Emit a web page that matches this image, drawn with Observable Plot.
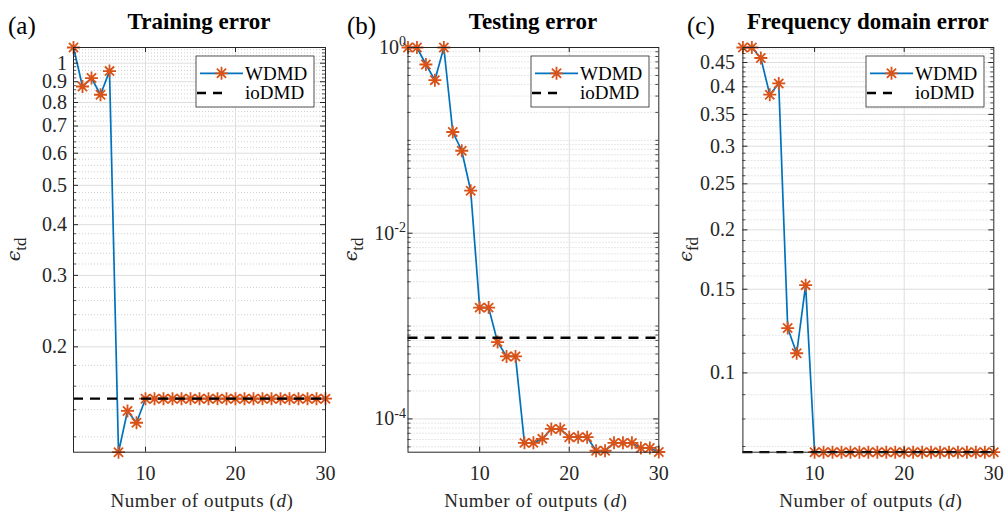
<!DOCTYPE html>
<html><head><meta charset="utf-8">
<script src="https://cdn.jsdelivr.net/npm/d3@7"></script>
<script src="https://cdn.jsdelivr.net/npm/@observablehq/plot@0.6"></script>
<style>
body{margin:0;background:#fff;}
#wrap{position:relative;width:1004px;height:513px;overflow:hidden;background:#fff;}
#wrap svg{position:absolute;top:0;font-family:"Liberation Serif","Times New Roman",serif !important;}
#wrap svg text{font-family:"Liberation Serif","Times New Roman",serif;}
#wrap svg tspan.eps{font-family:"DejaVu Serif",serif;}
</style></head>
<body><div id="wrap"></div>
<script>
// ---------- data ----------
const outputs = [2,3,4,5,6,7,8,9,10,11,12,13,14,15,16,17,18,19,20,21,22,23,24,25,26,27,28,29,30];
const trainWDMD = [1.093,0.876,0.919,0.836,0.956,0.110,0.139,0.130,0.149,0.149,0.149,0.149,0.149,0.149,0.149,0.149,0.149,0.149,0.149,0.149,0.149,0.149,0.149,0.149,0.149,0.149,0.149,0.149,0.149];
const testWDMD = [1.0,1.0,0.656,0.445,1.0,0.123,0.0773,0.0287,1.58e-3,1.58e-3,6.73e-4,4.71e-4,4.71e-4,5.52e-5,5.52e-5,6.1e-5,7.8e-5,7.8e-5,6.35e-5,6.35e-5,6.35e-5,4.54e-5,4.54e-5,5.52e-5,5.52e-5,5.52e-5,4.87e-5,4.87e-5,4.4e-5];
const freqWDMD = [0.484,0.484,0.460,0.385,0.4066,0.1243,0.110,0.153,0.0681,0.0681,0.0681,0.0681,0.0681,0.0681,0.0681,0.0681,0.0681,0.0681,0.0681,0.0681,0.0681,0.0681,0.0681,0.0681,0.0681,0.0681,0.0681,0.0681,0.0681];
const trainIoDMD = 0.149;
const testIoDMD = 7.48e-4;
const freqIoDMD = 0.0681;
const xTickValues = [10,20,30];
const trainTicks = [0.2,0.3,0.4,0.5,0.6,0.7,0.8,0.9,1];
const trainTickLabels = ["0.2","0.3","0.4","0.5","0.6","0.7","0.8","0.9","1"];
const testTicks = [1,1e-2,1e-4];
const testTickLabels = ["10^0","10^-2","10^-4"];
const freqTicks = [0.1,0.15,0.2,0.25,0.3,0.35,0.4,0.45];
const freqTickLabels = ["0.1","0.15","0.2","0.25","0.3","0.35","0.4","0.45"];
const titles = ["Training error","Testing error","Frequency domain error"];
const panelTags = ["(a)","(b)","(c)"];
const yLabelSubs = ["td","td","fd"];
const seriesNames = ["WDMD","ioDMD"];

// ---------- helpers ----------
const SERIF = "'Liberation Serif','Times New Roman',serif";
const BLUE = "#0072BD", ORANGE = "#D95319", AX = "#262626";
const SR = 6.5;
const star = {draw(ctx){const r=SR;const a=r*Math.SQRT1_2;
  ctx.moveTo(-r,0);ctx.lineTo(r,0);ctx.moveTo(0,-r);ctx.lineTo(0,r);
  ctx.moveTo(-a,-a);ctx.lineTo(a,a);ctx.moveTo(-a,a);ctx.lineTo(a,-a);}};
const STARPATH = `M-${SR},0L${SR},0M0,-${SR}L0,${SR}M-4.6,-4.6L4.6,4.6M-4.6,4.6L4.6,-4.6`;

function minorsLinear(lo, hi, step, majors){
  const out=[]; for(let k=Math.ceil(lo/step-1e-9);k*step<=hi+1e-12;k++){const v=+(k*step).toFixed(6);
    if(v<lo||v>hi) continue; if(majors.some(m=>Math.abs(m-v)<1e-9)) continue; out.push(v);} return out;}
function minorsLog(lo, hi, majors){
  const out=[]; for(let e=-6;e<=1;e++) for(let k=1;k<=9;k++){const v=k*Math.pow(10,e);
    if(v<lo||v>hi) continue; if(majors.some(m=>Math.abs(m-v)/m<1e-9)) continue; out.push(v);} return out;}

function panel(cfg){
  const {left,width,mL,mR,values,io,domain,ticks,labels,minor,pad,idx,ylx} = cfg;
  const mT=47, mB=61.3, H=513;
  const fw = width-mL-mR, fh = H-mT-mB;
  const rows = outputs.map((d,i)=>({d, v: values[i]}));
  const lab = v => labels[ticks.indexOf(v)];
  const svg = Plot.plot({
    width, height:H, marginLeft:mL, marginRight:mR, marginTop:mT, marginBottom:mB,
    style:{fontFamily:SERIF, background:"transparent", overflow:"visible", color:AX},
    x:{domain:[2,30]},
    y:{type:"log", domain},
    marks:[
      Plot.ruleY(minor,{stroke:"#c4c4c4", strokeWidth:0.8, strokeDasharray:"1,2"}),
      Plot.ruleY(ticks,{stroke:"#dedede", strokeWidth:1}),
      Plot.ruleX([10,20],{stroke:"#dedede", strokeWidth:1}),
      Plot.line(rows,{x:"d", y:"v", stroke:BLUE, strokeWidth:1.7}),
      Plot.dot(rows,{x:"d", y:"v", symbol:star, r:6, fill:"none", stroke:ORANGE, strokeWidth:1.8}),
      Plot.ruleY([io],{stroke:"#000", strokeWidth:2.3, strokeDasharray:"10,7"}),
      Plot.frame({stroke:AX, strokeWidth:1}),
      Plot.tickY(ticks,{stroke:AX, insetRight:fw-5}),
      Plot.tickY(ticks,{stroke:AX, insetLeft:fw-5}),
      Plot.tickY(minor,{stroke:AX, insetRight:fw-3, strokeWidth:0.8}),
      Plot.tickY(minor,{stroke:AX, insetLeft:fw-3, strokeWidth:0.8}),
      Plot.tickX([10,20],{stroke:AX, insetTop:fh-5}),
      Plot.tickX([10,20],{stroke:AX, insetBottom:fh-5}),
      Plot.axisY({ticks, tickFormat:lab, tickSize:0, tickPadding:pad, fontSize:20, fontFamily:SERIF, label:null, fill:AX}),
      Plot.axisX({ticks:xTickValues, tickSize:0, tickPadding:13.5, fontSize:20, fontFamily:SERIF, label:null, fill:AX})
    ]
  });
  svg.style.left = left+"px";
  const s = d3.select(svg);
  s.style("font-family", SERIF);
  // superscript exponents
  s.selectAll('g[aria-label="y-axis tick label"] text').each(function(){
    const t=this.textContent; if(t.includes("^")){const [b,e]=t.split("^");
      this.textContent=b; d3.select(this).append("tspan").attr("dy","-0.55em").attr("font-size","14px").text(e);}
  });
  const cx = mL+fw/2;
  s.append("text").attr("x",cx).attr("y",29).attr("text-anchor","middle").attr("font-size",23).attr("font-weight","bold").attr("fill","#000").text(titles[idx]);
  s.append("text").attr("x",cfg.tagx).attr("y",34).attr("text-anchor","start").attr("font-size",25).attr("fill","#000").text(panelTags[idx]);
  const xl = s.append("text").attr("x",cx+3).attr("y",507).attr("text-anchor","middle").attr("font-size",19).attr("letter-spacing","0.6px").attr("fill",AX);
  xl.append("tspan").text("Number of outputs (");
  xl.append("tspan").attr("font-style","italic").text("d");
  xl.append("tspan").text(")");
  const yl = s.append("text").attr("transform",`translate(${ylx},${mT+fh/2}) rotate(-90)`).attr("text-anchor","middle").attr("fill",AX);
  yl.append("tspan").attr("class","eps").attr("font-style","italic").attr("font-size",19).text("\u03F5");
  yl.append("tspan").attr("dy",6).attr("font-size",17).text(yLabelSubs[idx]);
  // legend
  const lg = s.append("g").attr("transform","translate(196,56)");
  lg.append("rect").attr("width",118).attr("height",51).attr("fill","#fff").attr("stroke",AX).attr("stroke-width",0.8);
  lg.append("line").attr("x1",4).attr("x2",47).attr("y1",17.3).attr("y2",17.3).attr("stroke",BLUE).attr("stroke-width",1.7);
  lg.append("path").attr("d",STARPATH).attr("transform","translate(25.5,17.3)").attr("fill","none").attr("stroke",ORANGE).attr("stroke-width",1.8);
  lg.append("line").attr("x1",1).attr("x2",30).attr("y1",37).attr("y2",37).attr("stroke","#000").attr("stroke-width",2.3).attr("stroke-dasharray","9,7");
  lg.append("text").attr("x",49).attr("y",23.5).attr("text-anchor","start").attr("font-size",19).attr("fill","#000").text(seriesNames[0]);
  lg.append("text").attr("x",49).attr("y",42.5).attr("text-anchor","start").attr("font-size",19).attr("fill","#000").text(seriesNames[1]);
  s.selectAll("text").attr("font-family", SERIF);
  document.getElementById("wrap").appendChild(svg);
}

const trDom=[0.110,1.093], teDom=[4.38e-5,1.0], frDom=[0.0681,0.484];
panel({idx:0,left:0,width:335,mL:73,mR:10,values:trainWDMD,io:trainIoDMD,domain:trDom,ticks:trainTicks,labels:trainTickLabels,
  minor:minorsLinear(trDom[0],trDom[1],0.02,trainTicks),pad:6.5,tagx:8,ylx:20});
panel({idx:1,left:335,width:335,mL:72.5,mR:11.7,values:testWDMD,io:testIoDMD,domain:teDom,ticks:testTicks,labels:testTickLabels,
  minor:minorsLog(teDom[0],teDom[1],testTicks),pad:2,tagx:12,ylx:22});
panel({idx:2,left:670,width:334,mL:72.4,mR:10.7,values:freqWDMD,io:freqIoDMD,domain:frDom,ticks:freqTicks,labels:freqTickLabels,
  minor:minorsLinear(frDom[0],frDom[1],0.01,freqTicks),pad:8,tagx:17,ylx:22});
</script></body></html>
